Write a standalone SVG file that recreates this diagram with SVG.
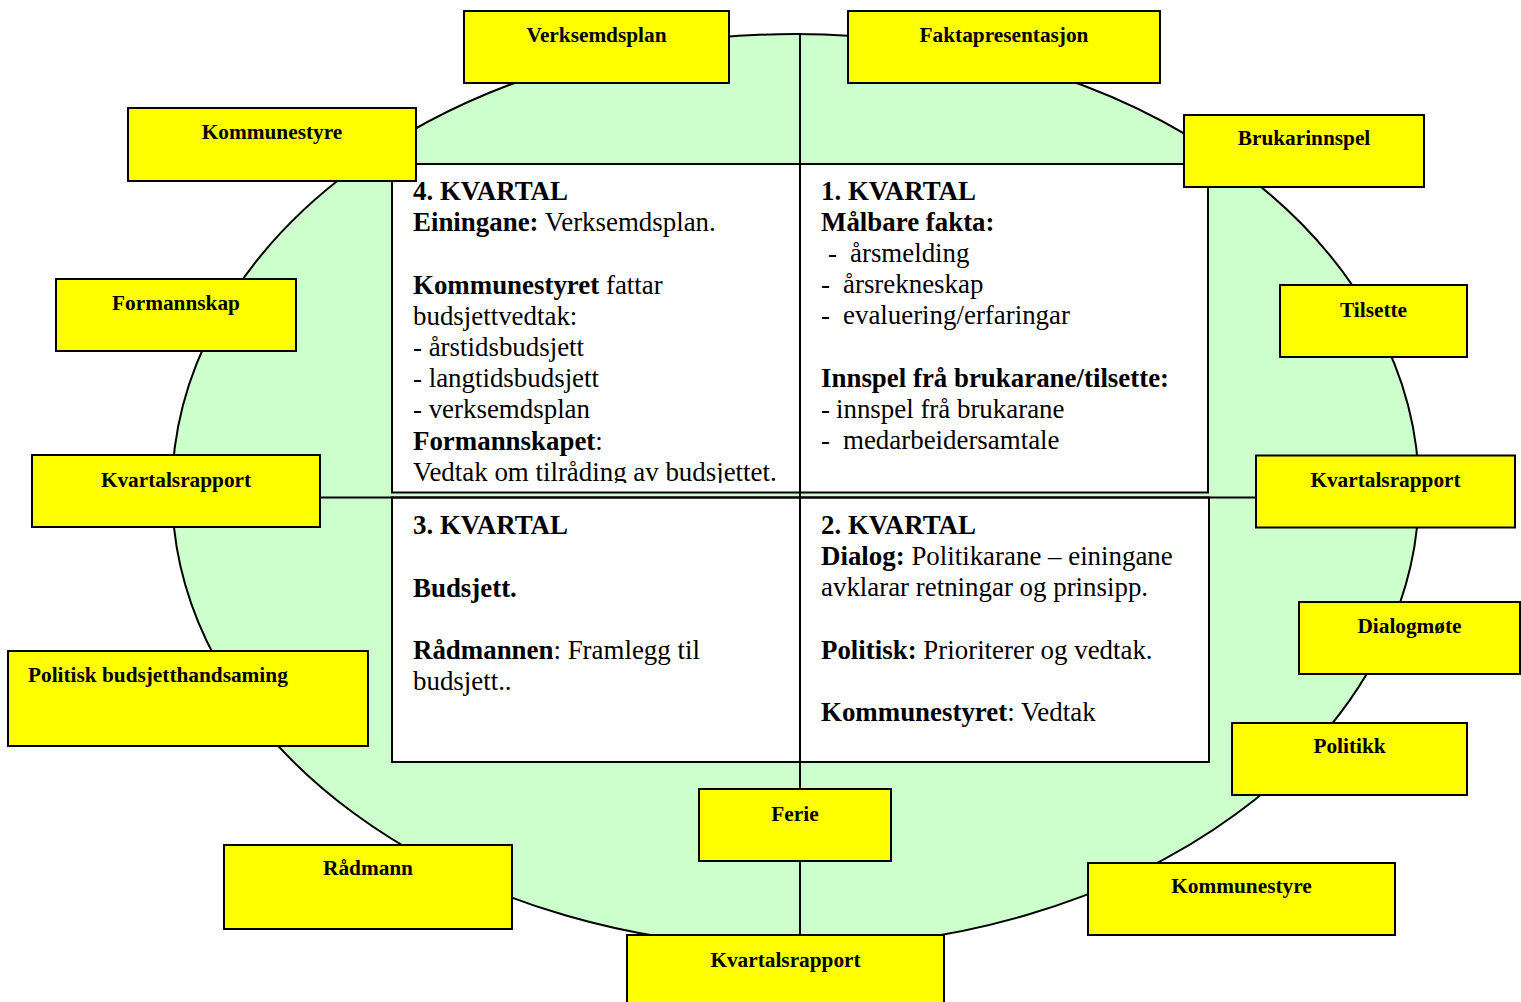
<svg xmlns="http://www.w3.org/2000/svg" width="1521" height="1002" viewBox="0 0 1521 1002">
<style>
.bg{fill:#ffffff}
.oval{fill:#CCFFCC;stroke:#000;stroke-width:2}
.panel{fill:#ffffff;stroke:#000;stroke-width:2}
.line{stroke:#000;stroke-width:2;fill:none}
.tag rect{fill:#FFFF00;stroke:#000;stroke-width:2}
.tag text{font-family:"Liberation Serif","Times New Roman",serif;font-weight:bold;font-size:21.3px;fill:#000;text-anchor:middle}
.q{font-family:"Liberation Serif","Times New Roman",serif;font-size:26.9px;fill:#000}
.b{font-weight:bold}
</style>
<defs>
<clipPath id="clipQ4"><rect x="392" y="164" width="408" height="319"/></clipPath>
</defs>
<rect class="bg" x="0" y="0" width="1521" height="1002"/>
<ellipse class="oval" cx="795.5" cy="490.8" rx="623.5" ry="456.8"/>

<g id="panels">
<rect class="panel" x="392" y="164" width="408" height="328.5"/>
<rect class="panel" x="800" y="164" width="408" height="328.5"/>
<rect class="panel" x="392" y="497.5" width="408" height="264.5"/>
<rect class="panel" x="800" y="497.5" width="409" height="264.5"/>
</g>

<g id="connectors">
<line class="line" x1="800" y1="34" x2="800" y2="935"/>
<line class="line" x1="320" y1="497.5" x2="1256" y2="497.5"/>
</g>

<g id="q4" class="q" clip-path="url(#clipQ4)">
<text x="413" y="199.5" class="b">4. KVARTAL</text>
<text x="413" y="230.5"><tspan class="b">Einingane:</tspan> Verksemdsplan.</text>
<text x="413" y="293.5"><tspan class="b">Kommunestyret</tspan> fattar</text>
<text x="413" y="324.5">budsjettvedtak:</text>
<text x="413" y="356">- årstidsbudsjett</text>
<text x="413" y="387">- langtidsbudsjett</text>
<text x="413" y="418">- verksemdsplan</text>
<text x="413" y="449.5"><tspan class="b">Formannskapet</tspan>:</text>
<text x="413" y="480.5">Vedtak om tilråding av budsjettet.</text>
</g>

<g id="q1" class="q">
<text x="821" y="199.5" class="b">1. KVARTAL</text>
<text x="821" y="230.5" class="b">Målbare fakta:</text>
<text y="261.5"><tspan x="828">-</tspan><tspan x="850">årsmelding</tspan></text>
<text y="292.5"><tspan x="821">-</tspan><tspan x="843">årsrekneskap</tspan></text>
<text y="323.5"><tspan x="821">-</tspan><tspan x="843">evaluering/erfaringar</tspan></text>
<text x="821" y="387" class="b">Innspel frå brukarane/tilsette:</text>
<text y="418"><tspan x="821">-</tspan><tspan x="836">innspel frå brukarane</tspan></text>
<text y="449"><tspan x="821">-</tspan><tspan x="843">medarbeidersamtale</tspan></text>
</g>

<g id="q3" class="q">
<text x="413" y="533.5" class="b">3. KVARTAL</text>
<text x="413" y="596.5" class="b">Budsjett.</text>
<text x="413" y="658.5"><tspan class="b">Rådmannen</tspan>: Framlegg til</text>
<text x="413" y="689.5">budsjett..</text>
</g>

<g id="q2" class="q">
<text x="821" y="533.5" class="b">2. KVARTAL</text>
<text x="821" y="564.5"><tspan class="b">Dialog:</tspan> Politikarane – einingane</text>
<text x="821" y="595.5">avklarar retningar og prinsipp.</text>
<text x="821" y="658.5"><tspan class="b">Politisk:</tspan> Prioriterer og vedtak.</text>
<text x="821" y="720.5"><tspan class="b">Kommunestyret</tspan>: Vedtak</text>
</g>

<g id="verksemdsplan" class="tag"><rect x="464" y="11" width="265" height="72"/><text x="596.5" y="42">Verksemdsplan</text></g>
<g id="faktapresentasjon" class="tag"><rect x="848" y="11" width="312" height="72"/><text x="1004" y="42">Faktapresentasjon</text></g>
<g id="kommunestyre-top" class="tag"><rect x="128" y="108" width="288" height="73"/><text x="272" y="139">Kommunestyre</text></g>
<g id="brukarinnspel" class="tag"><rect x="1184" y="115" width="240" height="72"/><text x="1304" y="145">Brukarinnspel</text></g>
<g id="formannskap" class="tag"><rect x="56" y="279" width="240" height="72"/><text x="176" y="310">Formannskap</text></g>
<g id="tilsette" class="tag"><rect x="1280" y="285" width="187" height="72"/><text x="1373.5" y="316.5">Tilsette</text></g>
<g id="kvartalsrapport-left" class="tag"><rect x="32" y="455" width="288" height="72"/><text x="176" y="487">Kvartalsrapport</text></g>
<g id="kvartalsrapport-right" class="tag"><rect x="1256" y="455.5" width="259" height="72"/><text x="1385.5" y="487">Kvartalsrapport</text></g>
<g id="dialogmote" class="tag"><rect x="1299" y="602" width="221" height="72"/><text x="1409.5" y="633">Dialogmøte</text></g>
<g id="politisk-budsjetthandsaming" class="tag"><rect x="8" y="651" width="360" height="95"/><text x="28" y="682" style="text-anchor:start">Politisk budsjetthandsaming</text></g>
<g id="politikk" class="tag"><rect x="1232" y="723" width="235" height="72"/><text x="1349.5" y="753">Politikk</text></g>
<g id="ferie" class="tag"><rect x="699" y="789" width="192" height="72"/><text x="795" y="821">Ferie</text></g>
<g id="radmann" class="tag"><rect x="224" y="845" width="288" height="84"/><text x="368" y="875">Rådmann</text></g>
<g id="kommunestyre-bottom" class="tag"><rect x="1088" y="863" width="307" height="72"/><text x="1241.5" y="893">Kommunestyre</text></g>
<g id="kvartalsrapport-bottom" class="tag"><rect x="627" y="935" width="317" height="80"/><text x="785.5" y="967">Kvartalsrapport</text></g>
</svg>
